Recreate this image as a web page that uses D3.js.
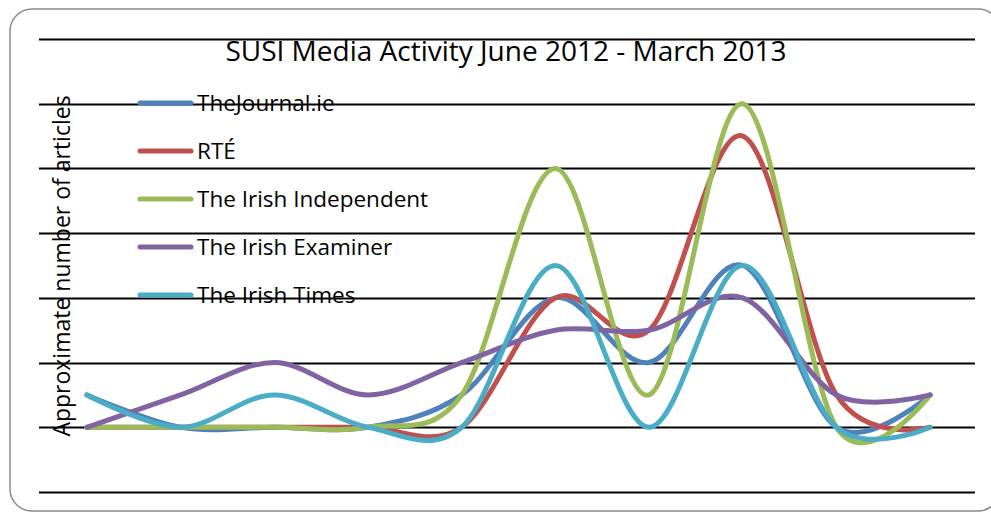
<!DOCTYPE html>
<html><head><meta charset="utf-8">
<script src="https://cdn.jsdelivr.net/npm/d3@7"></script>
<style>html,body{margin:0;padding:0;background:#fff;}svg{display:block;}</style>
</head><body>
<svg id="chart" width="991" height="515"></svg>
<script>
const categories = ["Jun 2012","Jul 2012","Aug 2012","Sep 2012","Oct 2012","Nov 2012","Dec 2012","Jan 2013","Feb 2013","Mar 2013"];
const seriesNames = ["TheJournal.ie","RTÉ","The Irish Independent","The Irish Examiner","The Irish Times"];
const journal     = [1,0,0,0,1,4,2,5,0,1];
const rte         = [0,0,0,0,0,4,3,9,1,0];
const independent = [0,0,0,0,1,8,1,10,0,1];
const examiner    = [0,1,2,1,2,3,3,4,1,1];
const times       = [1,0,1,0,0,5,0,5,0,0];
const yTicks = [-2,0,2,4,6,8,10,12];
const colors = ["#4F81BD","#C0504D","#9BBB59","#8064A2","#4BACC6"];
const seriesValues = [journal, rte, independent, examiner, times];

const svg = d3.select("#chart");
const font = "'Open Sans', 'Noto Sans', sans-serif";

svg.append("rect").attr("x",10).attr("y",9).attr("width",990).attr("height",502)
  .attr("rx",22).attr("ry",22).attr("fill","#fff").attr("stroke","#8c8c8c").attr("stroke-width",1.5);

const x = d3.scalePoint().domain(categories).range([40,977]).padding(0.5);
const y = d3.scaleLinear().domain([-2,12]).range([492,39]);

svg.append("g").selectAll("line").data(yTicks).join("line")
  .attr("x1",39).attr("x2",975).attr("y1",d=>Math.round(y(d))+0.5).attr("y2",d=>Math.round(y(d))+0.5)
  .attr("stroke","#000").attr("stroke-width",1.8);

svg.append("text").attr("x",506).attr("y",61).attr("text-anchor","middle")
  .attr("font-family",font).attr("font-size",28).attr("fill","#000")
  .text("SUSI Media Activity June 2012 - March 2013");

svg.append("text").attr("transform","translate(70,266) rotate(-90)").attr("text-anchor","middle")
  .attr("font-family",font).attr("font-size",23).attr("fill","#000")
  .text("Approximate number of articles");

const line = d3.line().x((d,i)=>x(categories[i])).y(d=>y(d)).curve(d3.curveCardinal.tension(0));
svg.append("g").selectAll("path").data(seriesValues).join("path")
  .attr("d",d=>line(d)).attr("fill","none").attr("stroke",(d,i)=>colors[i])
  .attr("stroke-width",5).attr("stroke-linecap","round").attr("stroke-linejoin","round");

const leg = svg.append("g");
seriesNames.forEach((name,i)=>{
  const ly = 103 + i*48;
  leg.append("line").attr("x1",140).attr("x2",191).attr("y1",ly).attr("y2",ly)
    .attr("stroke",colors[i]).attr("stroke-width",5).attr("stroke-linecap","round");
  leg.append("text").attr("x",197).attr("y",ly).attr("dy","0.36em")
    .attr("font-family",font).attr("font-size",22.5).attr("fill","#000").text(name);
});
</script>
</body></html>
